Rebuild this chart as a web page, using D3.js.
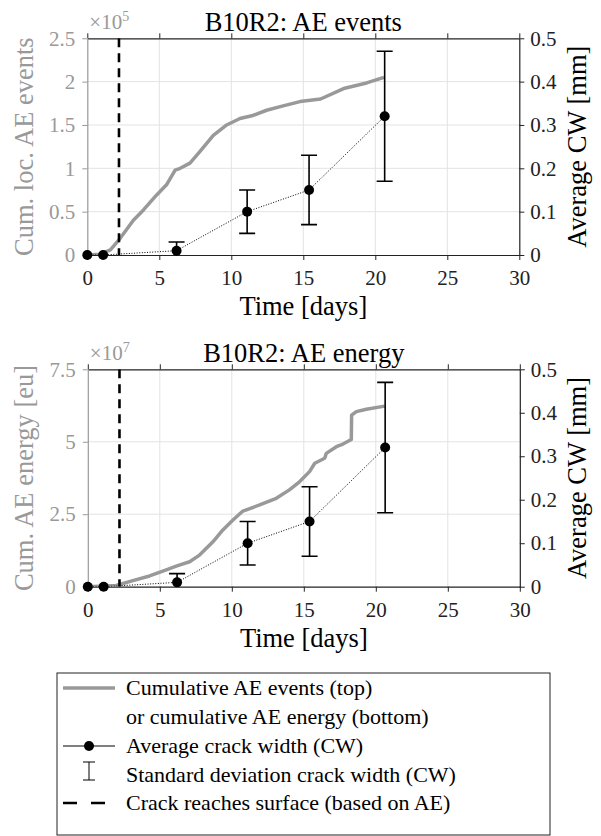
<!DOCTYPE html>
<html>
<head>
<meta charset="utf-8">
<script src="https://cdn.jsdelivr.net/npm/d3@7.9.0/dist/d3.min.js"></script>
<style>
  html, body { margin: 0; padding: 0; background: #fff; }
  svg { display: block; font-family: "Liberation Serif", serif; }
</style>
</head>
<body>
<svg id="chart" width="601" height="836"></svg>
<script>
// ---- data ----
// crack width measurements (right axis, mm)
const cwDays = [0, 1.1, 6.2, 11.1, 15.4, 20.65];
const cwMean = [0, 0, 0.01, 0.1, 0.15, 0.32];
const cwStd  = [0, 0, 0.02, 0.05, 0.08, 0.15];

// day the crack reaches the surface (from AE)
const crackDay = 2.2;

// cumulative located AE events (x 1e5)
const eventDays = [0, 0.9, 1.6, 2.27, 3.2, 3.9, 4.8, 5.5, 6.1, 6.45, 7.13, 7.8, 8.75, 9.68,
  10.6, 11.5, 12.45, 13.6, 14.77, 16.2, 17.8, 19.4, 20.6];
const eventVals = [0, 0.01, 0.06, 0.19, 0.40, 0.52, 0.69, 0.81, 0.98, 1.0, 1.06, 1.19, 1.38, 1.50,
  1.575, 1.61, 1.67, 1.72, 1.77, 1.80, 1.92, 1.985, 2.05];

// cumulative AE energy (x 1e7 eu)
const energyDays = [0, 1.97, 3.13, 4.29, 5.45, 6.14, 7.07, 7.76, 8.69, 9.38, 10.08, 10.77, 11.93,
  13.09, 14.0, 14.7, 15.4, 15.76, 16.45, 16.56, 17.26, 17.72, 18.3, 18.32, 18.65, 19.34, 20.62];
const energyVals = [0, 0.04, 0.21, 0.37, 0.58, 0.71, 0.86, 1.09, 1.55, 1.96, 2.30, 2.61, 2.82,
  3.05, 3.34, 3.62, 3.97, 4.26, 4.43, 4.6, 4.83, 4.92, 5.08, 5.92, 6.04, 6.12, 6.23];

// axis ticks
const xTicks = [0, 5, 10, 15, 20, 25, 30];
const cwTicks = [0, 0.1, 0.2, 0.3, 0.4, 0.5];
const eventTicks = [0, 0.5, 1, 1.5, 2, 2.5];
const energyTicks = [0, 2.5, 5, 7.5];

const legendLabels = [
  "Cumulative AE events (top)",
  "or cumulative AE energy (bottom)",
  "Average crack width (CW)",
  "Standard deviation crack width (CW)",
  "Crack reaches surface (based on AE)"
];

const GREY = "#999999";
const DARK = "#222222";
const GRID = "#e3e3e3";

const svg = d3.select("#chart");

const cw = cwDays.map((d, i) => ({ day: d, mean: cwMean[i], sd: cwStd[i] }));

function drawPanel(opt) {
  const { top, bottom, left, right } = opt.box;
  const g = svg.append("g");

  const x = d3.scaleLinear().domain([0, 30]).range([left, right]);
  const yL = d3.scaleLinear().domain([0, opt.leftMax]).range([bottom, top]);
  const yR = d3.scaleLinear().domain([0, 0.5]).range([bottom, top]);

  const clipId = "clip-" + opt.id;
  svg.append("clipPath").attr("id", clipId)
    .append("rect")
    .attr("x", left).attr("y", top)
    .attr("width", right - left).attr("height", bottom - top);

  // grid
  g.append("g").selectAll("line")
    .data(xTicks.slice(1, -1))
    .join("line")
    .attr("x1", d => x(d)).attr("x2", d => x(d))
    .attr("y1", top).attr("y2", bottom)
    .attr("stroke", GRID).attr("stroke-width", 1);
  g.append("g").selectAll("line")
    .data(opt.leftTicks.slice(1, -1))
    .join("line")
    .attr("x1", left).attr("x2", right)
    .attr("y1", d => yL(d)).attr("y2", d => yL(d))
    .attr("stroke", GRID).attr("stroke-width", 1);

  // axes (ticks point outward)
  const fmt = d => String(d);
  g.append("g")
    .attr("transform", `translate(0,${bottom})`)
    .attr("color", DARK)
    .call(d3.axisBottom(x).tickValues(xTicks).tickFormat(fmt).tickSize(5).tickSizeOuter(0).tickPadding(10))
    .call(a => a.selectAll("text").attr("font-size", 21).attr("font-family", "Liberation Serif").attr("fill", DARK));
  g.append("g")
    .attr("transform", `translate(0,${top})`)
    .attr("color", DARK)
    .call(d3.axisTop(x).tickValues(xTicks).tickFormat("").tickSize(5).tickSizeOuter(0));
  g.append("g")
    .attr("transform", `translate(${right},0)`)
    .attr("color", DARK)
    .call(d3.axisRight(yR).tickValues(cwTicks).tickFormat(fmt).tickSize(5).tickSizeOuter(0).tickPadding(6))
    .call(a => a.selectAll("text").attr("font-size", 21).attr("font-family", "Liberation Serif").attr("fill", DARK));
  g.append("g")
    .attr("transform", `translate(${left},0)`)
    .attr("color", GREY)
    .call(d3.axisLeft(yL).tickValues(opt.leftTicks).tickFormat(fmt).tickSize(5).tickSizeOuter(0).tickPadding(7))
    .call(a => a.selectAll("text").attr("font-size", 21).attr("font-family", "Liberation Serif").attr("fill", GREY));
  g.selectAll(".domain").attr("stroke-width", 1.2);

  // data layers
  const data = g.append("g").attr("clip-path", `url(#${clipId})`);

  // cumulative AE curve
  const pts = opt.days.map((d, i) => [d, opt.vals[i]]);
  data.append("path")
    .datum(pts)
    .attr("fill", "none")
    .attr("stroke", GREY)
    .attr("stroke-width", 3.5)
    .attr("stroke-linejoin", "round")
    .attr("d", d3.line().x(d => x(d[0])).y(d => yL(d[1])));

  // crack reaches surface
  data.append("line")
    .attr("x1", x(crackDay)).attr("x2", x(crackDay))
    .attr("y1", top).attr("y2", bottom)
    .attr("stroke", "#000").attr("stroke-width", 2.6)
    .attr("stroke-dasharray", "9,6");

  // average crack width, dotted
  data.append("path")
    .datum(cw)
    .attr("fill", "none")
    .attr("stroke", "#000")
    .attr("stroke-width", 1)
    .attr("stroke-dasharray", "1,1.6")
    .attr("d", d3.line().x(d => x(d.day)).y(d => yR(d.mean)));

  // error bars
  const eb = data.append("g").selectAll("g")
    .data(cw.filter(d => d.sd > 0))
    .join("g")
    .attr("stroke", "#000").attr("stroke-width", 1.6);
  eb.append("line")
    .attr("x1", d => x(d.day)).attr("x2", d => x(d.day))
    .attr("y1", d => yR(d.mean - d.sd)).attr("y2", d => yR(d.mean + d.sd));
  eb.append("line")
    .attr("x1", d => x(d.day) - 8).attr("x2", d => x(d.day) + 8)
    .attr("y1", d => yR(d.mean + d.sd)).attr("y2", d => yR(d.mean + d.sd));
  eb.append("line")
    .attr("x1", d => x(d.day) - 8).attr("x2", d => x(d.day) + 8)
    .attr("y1", d => yR(d.mean - d.sd)).attr("y2", d => yR(d.mean - d.sd));

  // markers
  g.append("g").selectAll("circle")
    .data(cw)
    .join("circle")
    .attr("cx", d => x(d.day)).attr("cy", d => yR(d.mean))
    .attr("r", 5).attr("fill", "#000");

  // title
  g.append("text")
    .attr("x", (left + right) / 2).attr("y", top - 7.5)
    .attr("text-anchor", "middle")
    .attr("font-size", 26.5).attr("fill", "#000")
    .text(opt.title);

  // exponent label
  const ex = g.append("text")
    .attr("x", left + 2).attr("y", top - 9)
    .attr("font-size", 21).attr("fill", GREY);
  ex.append("tspan").text("\u00d710");
  ex.append("tspan").attr("dy", -8).attr("font-size", 14).text(opt.exponent);

  // axis labels
  g.append("text")
    .attr("x", (left + right) / 2).attr("y", bottom + 60)
    .attr("text-anchor", "middle")
    .attr("font-size", 26.5).attr("fill", "#000")
    .text("Time [days]");
  g.append("text")
    .attr("transform", `translate(33,${(top + bottom) / 2}) rotate(-90)`)
    .attr("text-anchor", "middle")
    .attr("font-size", 26.5).attr("fill", GREY)
    .text(opt.leftLabel);
  g.append("text")
    .attr("transform", `translate(586,${(top + bottom) / 2}) rotate(-90)`)
    .attr("text-anchor", "middle")
    .attr("font-size", 26.5).attr("fill", "#000")
    .text("Average CW [mm]");
}

drawPanel({
  id: "events",
  box: { top: 38.3, bottom: 255, left: 87.3, right: 519.3 },
  leftMax: 2.5, leftTicks: eventTicks,
  days: eventDays, vals: eventVals,
  title: "B10R2:  AE events", exponent: "5",
  leftLabel: "Cum. loc. AE events"
});

drawPanel({
  id: "energy",
  box: { top: 369.3, bottom: 586.7, left: 87.8, right: 519.8 },
  leftMax: 7.5, leftTicks: energyTicks,
  days: energyDays, vals: energyVals,
  title: "B10R2:  AE energy", exponent: "7",
  leftLabel: "Cum. AE energy [eu]"
});

// ---- legend ----
const lg = svg.append("g");
lg.append("rect")
  .attr("x", 57).attr("y", 673).attr("width", 493).attr("height", 162)
  .attr("fill", "#fff").attr("stroke", DARK).attr("stroke-width", 1);

const rowY = [688, 717, 746, 775, 803];
lg.selectAll("text")
  .data(legendLabels)
  .join("text")
  .attr("x", 126).attr("y", (d, i) => rowY[i] + 7)
  .attr("font-size", 22).attr("fill", "#000")
  .text(d => d);

lg.append("line")
  .attr("x1", 63).attr("x2", 115).attr("y1", rowY[0]).attr("y2", rowY[0])
  .attr("stroke", GREY).attr("stroke-width", 3.5);
lg.append("line")
  .attr("x1", 63).attr("x2", 115).attr("y1", rowY[2]).attr("y2", rowY[2])
  .attr("stroke", "#000").attr("stroke-width", 1.2);
lg.append("circle").attr("cx", 89).attr("cy", rowY[2]).attr("r", 5).attr("fill", "#000");
const ib = lg.append("g").attr("stroke", "#000").attr("stroke-width", 1);
ib.append("line").attr("x1", 89).attr("x2", 89).attr("y1", 762).attr("y2", 780);
ib.append("line").attr("x1", 83).attr("x2", 95).attr("y1", 762).attr("y2", 762);
ib.append("line").attr("x1", 83).attr("x2", 95).attr("y1", 780).attr("y2", 780);
lg.append("line")
  .attr("x1", 63).attr("x2", 115).attr("y1", rowY[4]).attr("y2", rowY[4])
  .attr("stroke", "#000").attr("stroke-width", 2.6)
  .attr("stroke-dasharray", "14,14");
</script>
</body>
</html>
